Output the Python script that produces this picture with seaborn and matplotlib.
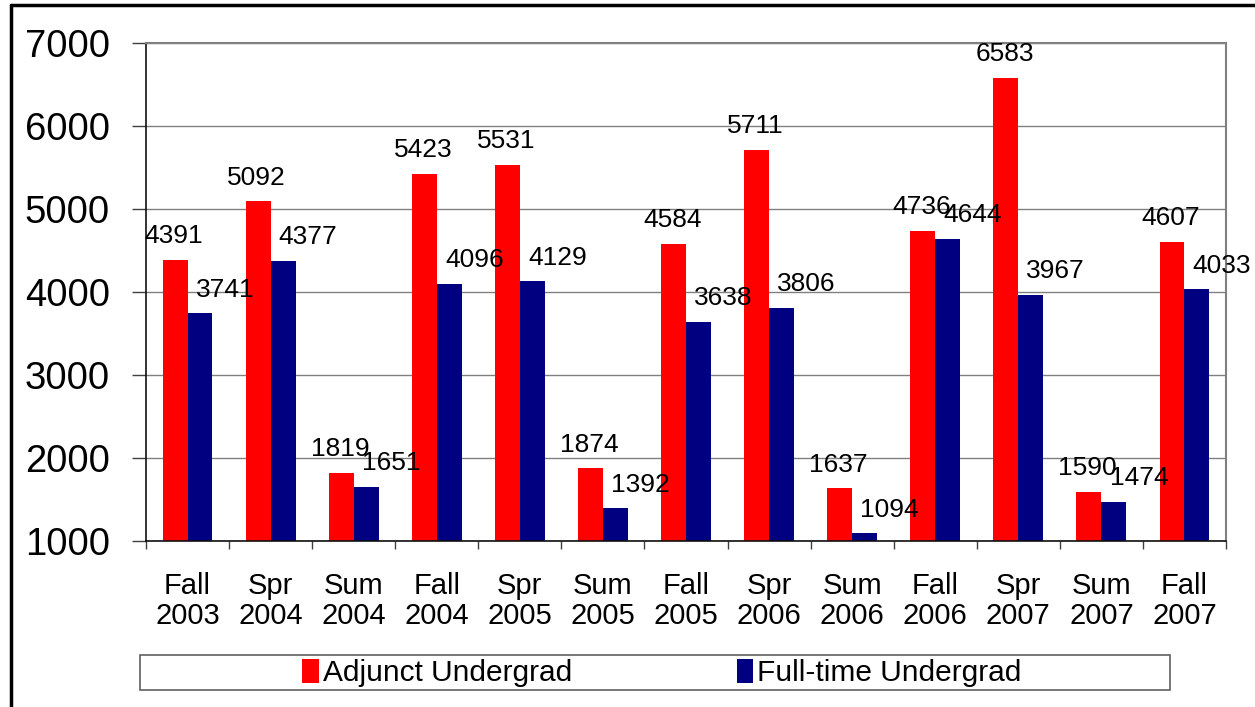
import pandas as pd
import numpy as np
import seaborn as sns
import matplotlib.pyplot as plt
from matplotlib.lines import Line2D
from matplotlib.patches import Patch, Rectangle

terms = ['Fall\n2003', 'Spr\n2004', 'Sum\n2004', 'Fall\n2004', 'Spr\n2005', 'Sum\n2005', 'Fall\n2005',
         'Spr\n2006', 'Sum\n2006', 'Fall\n2006', 'Spr\n2007', 'Sum\n2007', 'Fall\n2007']
adjunct = [4391, 5092, 1819, 5423, 5531, 1874, 4584, 5711, 1637, 4736, 6583, 1590, 4607]
fulltime = [3741, 4377, 1651, 4096, 4129, 1392, 3638, 3806, 1094, 4644, 3967, 1474, 4033]
series = ['Adjunct Undergrad', 'Full-time Undergrad']
colors = ['#FF0000', '#000080']

# long format for seaborn
df = pd.DataFrame({
    'term': terms * 2,
    'count': adjunct + fulltime,
    'series': [series[0]] * len(terms) + [series[1]] * len(terms),
})

sns.set_style('white')
plt.rcParams['font.family'] = ['Liberation Sans', 'DejaVu Sans']
plt.rcParams['text.color'] = 'black'
plt.rcParams['xtick.color'] = 'black'
plt.rcParams['ytick.color'] = 'black'
plt.rcParams['xtick.labelcolor'] = 'black'
plt.rcParams['ytick.labelcolor'] = 'black'

fig = plt.figure(figsize=(12.55, 7.07), dpi=100)
ax = fig.add_axes([146/1255, 1 - 541/707, (1226-146)/1255, (541-43)/707])

sns.barplot(data=df, x='term', y='count', hue='series', palette=colors, width=0.6,
            saturation=1, linewidth=0, legend=False, ax=ax)

ax.set_ylim(1000, 7000)
ax.set_yticks(range(1000, 8000, 1000))
ax.set_xlim(-0.5, len(terms) - 0.5)
ax.yaxis.grid(True, color='#808080', lw=1)
ax.set_axisbelow(True)
ax.set_xlabel('')
ax.set_ylabel('')

for side in ['top', 'right']:
    ax.spines[side].set_color('#808080')
    ax.spines[side].set_linewidth(1.5)
for side in ['left', 'bottom']:
    ax.spines[side].set_color('#101010')
    ax.spines[side].set_linewidth(1.2)

ax.tick_params(axis='y', labelsize=27.5, length=10, width=1, color='#404040', pad=16, left=True)
ax.tick_params(axis='x', which='major', labelsize=21, length=0, pad=22)
ax.set_xticks(np.arange(-0.5, len(terms)), minor=True)
ax.tick_params(axis='x', which='minor', length=6, width=1, color='#404040', bottom=True)
for lab in ax.get_xticklabels():
    lab.set_linespacing(1.1)

# data labels: red above bar, blue offset up-right
offsets = [(-1, 17), (18, 17)]
for cont, (dx, dy) in zip(ax.containers, offsets):
    for bar in cont:
        h = bar.get_height()
        ax.annotate(f'{int(round(h))}', (bar.get_x() + bar.get_width() / 2, h),
                    xytext=(dx, dy), textcoords='offset points',
                    ha='center', va='center', fontsize=19, color='black', clip_on=False)

# legend box
fig.add_artist(Rectangle((140/1255, 1 - 690/707), (1170-140)/1255, 35/707,
                         transform=fig.transFigure, fill=False, edgecolor='#606060', lw=1.2))
handles = [Patch(facecolor=c, edgecolor='none') for c in colors]
fig.legend(handles, series, loc='center', bbox_to_anchor=(662/1255, 1 - 673/707), ncol=2,
           frameon=False, fontsize=21.5, handlelength=0.55, handleheight=0.9,
           handletextpad=0.15, columnspacing=5.5)

# outer chart frame
fig.add_artist(Line2D([11/1255, 11/1255], [0, 1 - 5/707], color='black', lw=2.5,
                      transform=fig.transFigure))
fig.add_artist(Line2D([11/1255, 1], [1 - 5/707, 1 - 5/707], color='black', lw=2.5,
                      transform=fig.transFigure))

fig.savefig('out.png', dpi=100)
